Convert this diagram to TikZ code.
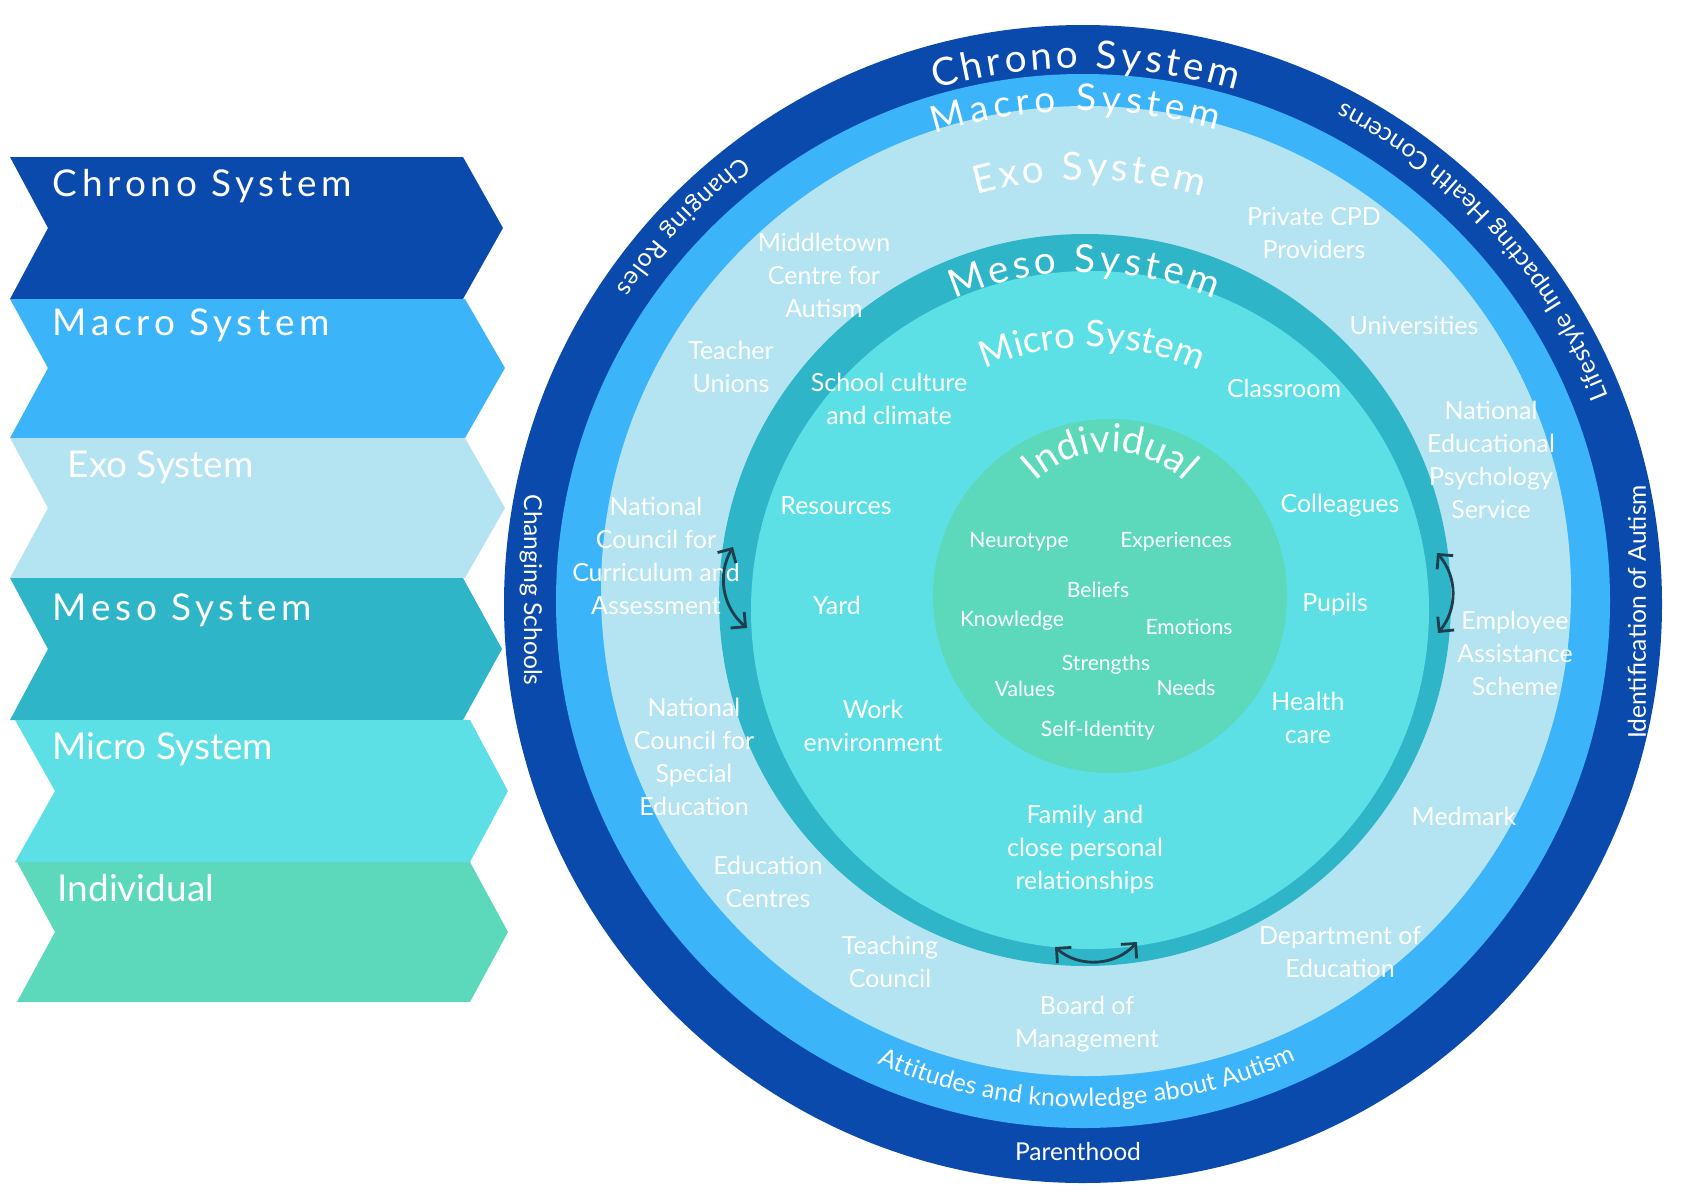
\documentclass[tikz,border=0pt]{standalone}
\usepackage{fontspec}
\setmainfont{Lato}
\newfontfamily\spacedfont[LetterSpace=13]{Lato}
\usetikzlibrary{decorations.text,arrows.meta}

\definecolor{chronoblue}{RGB}{11,74,173}
\definecolor{macroblue}{RGB}{60,180,250}
\definecolor{exoblue}{RGB}{180,228,241}
\definecolor{mesoteal}{RGB}{46,181,200}
\definecolor{microcyan}{RGB}{93,224,229}
\definecolor{indivgreen}{RGB}{92,216,187}
\definecolor{linkslate}{RGB}{30,62,78}

\tikzset{
  heading/.style={text=white,anchor=base west,inner sep=0pt,font=\fontsize{10.5}{12}\selectfont},
  ringlabel/.style={text=white,align=center,inner sep=0pt,font=\fontsize{7.1}{9.4}\selectfont},
  corelabel/.style={text=white,inner sep=0pt,font=\fontsize{6}{7}\selectfont},
  bandtext/.style={text=white,inner sep=0pt,font=\fontsize{7}{9}\selectfont},
  arctext/.style={decorate,decoration={text along path,text color=white,text align={fit to path},text={#1}}},
  linkarrow/.style={linkslate,line width=0.8pt,{Straight Barb[length=3pt,width=6pt]}-{Straight Barb[length=3pt,width=6pt]}},
}

\begin{document}
\begin{tikzpicture}[x=0.01cm,y=0.01cm]
\useasboundingbox (0,0) rectangle (1700,-1203);
\fill[chronoblue] (10,-157) -- (463,-157) -- (503,-228) -- (463,-299) -- (10,-299) -- (48,-228) -- cycle;
\fill[macroblue] (10,-299) -- (465,-299) -- (505,-368) -- (465,-438) -- (10,-438) -- (48,-368) -- cycle;
\fill[exoblue] (10,-438) -- (465,-438) -- (505,-508) -- (465,-578) -- (10,-578) -- (48,-508) -- cycle;
\fill[mesoteal] (10,-578) -- (463,-578) -- (502,-649) -- (463,-720) -- (10,-720) -- (48,-649) -- cycle;
\fill[microcyan] (15,-720) -- (470,-720) -- (508,-791) -- (470,-862) -- (15,-862) -- (55,-791) -- cycle;
\fill[indivgreen] (17,-862) -- (470,-862) -- (508,-932) -- (470,-1002) -- (17,-1002) -- (55,-932) -- cycle;
\node[heading] (chronohead) at (52,-196) {\spacedfont Chrono System};
\node[heading] (macrohead) at (52,-335) {\spacedfont Macro System};
\node[heading] (exohead) at (67,-477) {Exo System};
\node[heading] (mesohead) at (52,-620) {\spacedfont Meso System};
\node[heading] (microhead) at (52,-759) {Micro System};
\node[heading] (indivhead) at (57,-901) {Individual};
\fill[chronoblue] (1083,-604) circle (579);
\fill[macroblue] (1083,-601) circle (527);
\fill[exoblue] (1086,-591) circle (485);
\fill[mesoteal] (1085,-600) circle (366);
\fill[microcyan] (1090,-610) circle (339);
\fill[indivgreen] (1110,-596) circle (177);
\path[arctext={|\fontsize{11}{11}\selectfont|Chrono System}] (1083,-604) ++(106:536) arc[start angle=106,end angle=73.4,radius=536];
\path[arctext={|\fontsize{10.5}{11}\selectfont|Macro System}] (1083,-601) ++(107.6:490) arc[start angle=107.6,end angle=74.1,radius=490];
\path[arctext={|\fontsize{11}{11}\selectfont|Exo System}] (1086,-591) ++(105.5:411) arc[start angle=105.5,end angle=73.5,radius=411];
\path[arctext={|\fontsize{11}{11}\selectfont|Meso System}] (1085,-600) ++(113.5:328) arc[start angle=113.5,end angle=66.8,radius=328];
\path[arctext={|\fontsize{10.4}{11}\selectfont|Micro System}] (1090,-610) ++(113.5:263) arc[start angle=113.5,end angle=66,radius=263];
\path[decorate,decoration={text along path,text color=white,text align=center,text={|\fontsize{11}{12}\selectfont|Individual}}] (1110,-560) ++(175:108) arc[start angle=175,end angle=5,radius=108];
\path[arctext={|\fontsize{7.1}{9}\selectfont|Changing Roles}] (1083,-604) ++(127.3:563) arc[start angle=127.3,end angle=146,radius=563];
\path[arctext={|\fontsize{7.1}{9}\selectfont|Lifestyle Impacting Health Concerns}] (1083,-604) ++(21.6:565) arc[start angle=21.6,end angle=62.6,radius=565];
\path[arctext={|\fontsize{7.1}{9}\selectfont|Attitudes and knowledge about Autism}] (1083,-601) ++(246:506) arc[start angle=246,end angle=295,radius=506];
\node[bandtext,rotate=-90] (schools) at (531,-590) {Changing Schools};
\node[bandtext,rotate=90] (identification) at (1637,-612) {Identification of Autism};
\node[bandtext] (parenthood) at (1078,-1152) {Parenthood};
\node[ringlabel] (middletown) at (824,-275) {Middletown\\Centre for\\Autism};
\node[ringlabel] (privatecpd) at (1314,-233) {Private CPD\\Providers};
\node[ringlabel] (unions) at (731,-367) {Teacher\\Unions};
\node[ringlabel] (universities) at (1414,-325) {Universities};
\node[ringlabel] (neps) at (1491,-460) {National\\Educational\\Psychology\\Service};
\node[ringlabel] (ncca) at (656,-556) {National\\Council for\\Curriculum and\\Assessment};
\node[ringlabel] (eas) at (1515,-653) {Employee\\Assistance\\Scheme};
\node[ringlabel] (ncse) at (694,-757) {National\\Council for\\Special\\Education};
\node[ringlabel] (medmark) at (1464,-816) {Medmark};
\node[ringlabel] (edcentres) at (768,-882) {Education\\Centres};
\node[ringlabel] (teachcouncil) at (890,-962) {Teaching\\Council};
\node[ringlabel] (deped) at (1340,-952) {Department of\\Education};
\node[ringlabel] (board) at (1087,-1024) {Board of\\Management};
\node[ringlabel] (culture) at (889,-399) {School culture\\and climate};
\node[ringlabel] (classroom) at (1284,-388) {Classroom};
\node[ringlabel] (resources) at (836,-506) {Resources};
\node[ringlabel] (colleagues) at (1340,-506) {Colleagues};
\node[ringlabel] (yard) at (837,-605) {Yard};
\node[ringlabel] (pupils) at (1335,-604) {Pupils};
\node[ringlabel] (workenv) at (873,-726) {Work\\environment};
\node[ringlabel] (healthcare) at (1308,-718) {Health\\care};
\node[ringlabel] (family) at (1085,-849) {Family and\\close personal\\relationships};
\node[corelabel] (neurotype) at (1019,-542) {Neurotype};
\node[corelabel] (experiences) at (1176,-542) {Experiences};
\node[corelabel] (beliefs) at (1098,-590) {Beliefs};
\node[corelabel] (knowledge) at (1012,-621) {Knowledge};
\node[corelabel] (emotions) at (1189,-627) {Emotions};
\node[corelabel] (strengths) at (1106,-665) {Strengths};
\node[corelabel] (values) at (1025,-689) {Values};
\node[corelabel] (needs) at (1186,-688) {Needs};
\node[corelabel] (selfid) at (1098,-731) {Self-Identity};
\coordinate (leftup) at (733,-547);
\coordinate (leftdown) at (747,-628);
\coordinate (rightup) at (1437,-553);
\coordinate (rightdown) at (1438,-633);
\coordinate (bottomleft) at (1055,-947);
\coordinate (bottomright) at (1137,-942);
\draw[linkarrow] (leftup) to[bend right=40] (leftdown);
\draw[linkarrow] (rightup) to[bend left=40] (rightdown);
\draw[linkarrow] (bottomleft) to[bend right=45] (bottomright);
\end{tikzpicture}
\end{document}
